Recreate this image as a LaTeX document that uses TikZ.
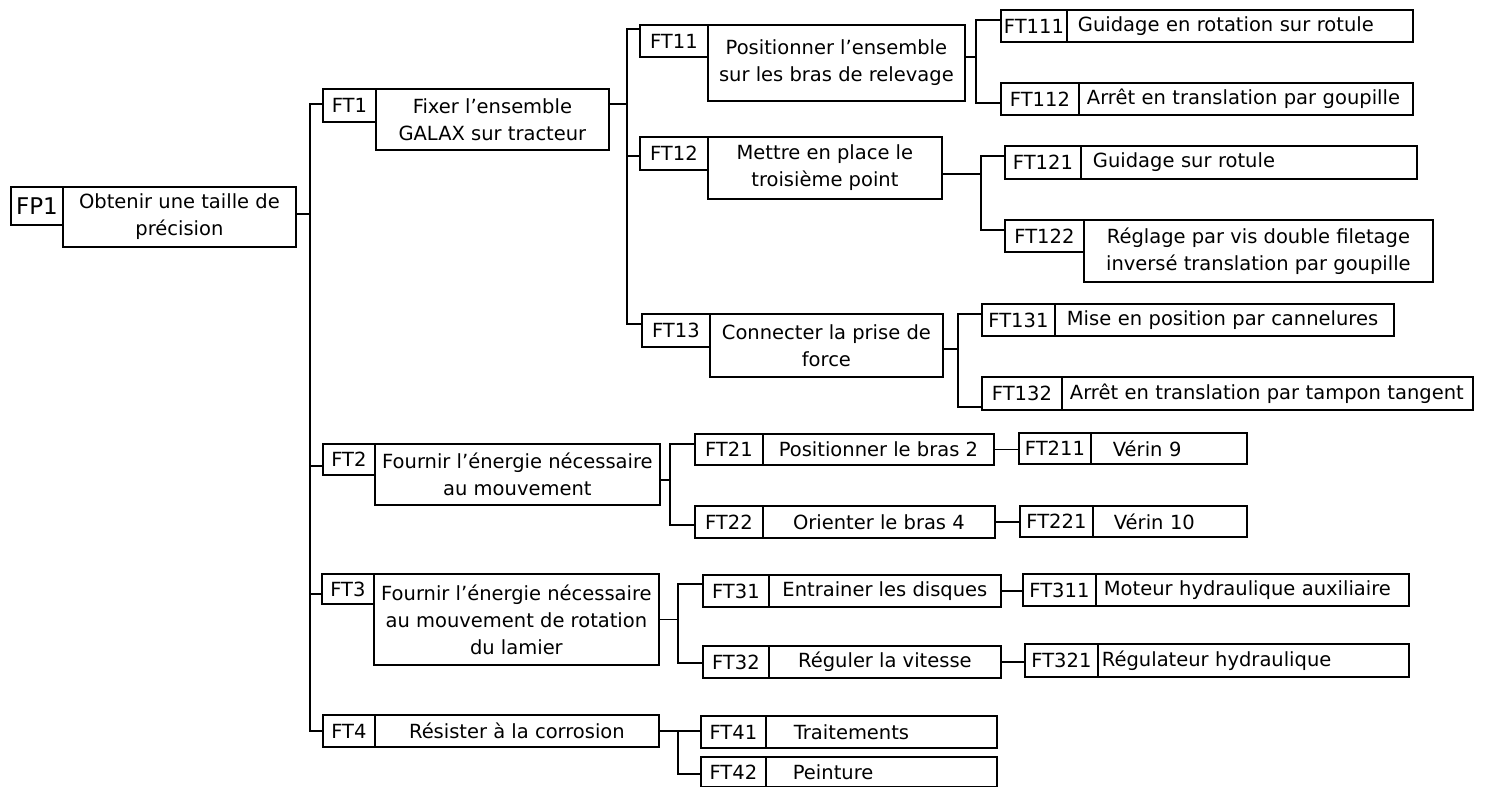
\documentclass[tikz,border=0pt]{standalone}
\usepackage{fontspec}
\setmainfont{DejaVu Sans}
\tikzset{
  lab/.style={draw, line width=1.8pt, inner sep=0pt, font=\fontsize{19.5}{26}\selectfont},
  box/.style={draw, line width=1.8pt, inner xsep=2pt, inner ysep=0pt, align=center, font=\fontsize{19.5}{27}\selectfont},
  conn/.style={line width=1.8pt},
  corners/.code args={#1,#2,#3,#4}{%
    \pgfmathsetmacro\cwd{#3-#1}\pgfmathsetmacro\cht{#4-#2}%
    \edef\tmpk{\noexpand\pgfkeysalso{minimum width=\cwd pt, minimum height=\cht pt, anchor=north west, at={(#1,#2)}}}\tmpk},
  lt/.code={\pgfmathsetmacro\twd{\cwd-2*#1}%
    \edef\tmpk{\noexpand\pgfkeysalso{inner xsep=#1pt, text width=\twd pt, align=left}}\tmpk},
}
\newcommand\ftnode[9]{%
  \node[lab, corners={#2,#5,#3,#6}] (#1-l) {#1};
  \node[box, corners={#3,#5,#4,#7}, #8] (#1) {#9};}
\newcommand\branch[4]{%
  \coordinate (#1-o) at ([yshift=#2pt]#1.east);
  \coordinate (#1-b) at (#3,0);
  \draw[conn] (#1-o) -- (#1-b |- #1-o);
  \foreach \bchild/\bshift in {#4}{%
    \coordinate (\bchild-i) at ([yshift=\bshift pt]\bchild-l.west);
    \draw[conn] (#1-b |- #1-o) -- (#1-b |- \bchild-i) -- (\bchild-i);
  }}
\begin{document}
\begin{tikzpicture}[x=1pt,y=-1pt]
\useasboundingbox (0,0) rectangle (1486,787);
\node[lab, corners={10,186,62,224}, font=\fontsize{23}{28}\selectfont] (FP1-l) {FP1};
\node[box, corners={62,186,295,246}] (FP1) {Obtenir une taille de\\précision};
\ftnode{FT1}{322}{375}{608}{88}{121}{149}{}{Fixer l’ensemble\\GALAX sur tracteur}
\ftnode{FT11}{639}{707}{964}{24}{56}{100}{}{Positionner l’ensemble\\sur les bras de relevage}
\ftnode{FT111}{1000}{1066}{1412}{9}{41}{41}{lt=11}{Guidage en rotation sur rotule}
\ftnode{FT112}{1000}{1078}{1412}{82}{114}{114}{lt=8}{Arrêt en translation par goupille}
\ftnode{FT12}{639}{707}{941}{136}{169}{198}{}{Mettre en place le\\troisième point}
\ftnode{FT121}{1004}{1080}{1416}{145}{178}{178}{lt=12}{Guidage sur rotule}
\ftnode{FT122}{1004}{1083}{1432}{219}{251}{281}{}{Réglage par vis double filetage\\inversé translation par goupille}
\ftnode{FT13}{641}{709}{942}{313}{346}{376}{}{Connecter la prise de\\force}
\ftnode{FT131}{981}{1054}{1393}{303}{335}{335}{lt=12}{Mise en position par cannelures}
\ftnode{FT132}{981}{1061}{1472}{376}{409}{409}{lt=8}{Arrêt en translation par tampon tangent}
\ftnode{FT2}{322}{374}{659}{443}{474}{504}{}{Fournir l’énergie nécessaire\\au mouvement}
\ftnode{FT21}{694}{762}{993}{433}{464}{464}{}{Positionner le bras 2}
\ftnode{FT211}{1018}{1090}{1246}{432}{463}{463}{lt=22}{Vérin 9}
\ftnode{FT22}{694}{762}{994}{505}{537}{537}{}{Orienter le bras 4}
\ftnode{FT221}{1019}{1092}{1246}{505}{536}{536}{lt=21}{Vérin 10}
\ftnode{FT3}{321}{373}{658}{573}{603}{664}{}{Fournir l’énergie nécessaire\\au mouvement de rotation\\du lamier}
\ftnode{FT31}{702}{768}{1000}{574}{606}{606}{}{Entrainer les disques}
\ftnode{FT311}{1022}{1095}{1408}{573}{605}{605}{lt=8}{Moteur hydraulique auxiliaire}
\ftnode{FT32}{702}{768}{1000}{645}{677}{677}{}{Réguler la vitesse}
\ftnode{FT321}{1024}{1097}{1408}{643}{676}{676}{lt=4}{Régulateur hydraulique}
\ftnode{FT4}{322}{374}{658}{714}{746}{746}{}{Résister à la corrosion}
\ftnode{FT41}{700}{765}{996}{715}{747}{747}{lt=28}{Traitements}
\ftnode{FT42}{700}{765}{996}{756}{786}{786}{lt=27}{Peinture}
\branch{FP1}{3}{310}{FT1/1.5,FT2/-6.5,FT3/-5,FT4/0}
\branch{FT1}{15.5}{627}{FT11/12,FT12/-2.5,FT13/6.5}
\branch{FT11}{6}{976}{FT111/6,FT112/-4}
\branch{FT12}{-6}{981}{FT121/6.5,FT122/6}
\branch{FT13}{-3.5}{958}{FT131/6,FT132/-13.5}
\branch{FT2}{-5.5}{670}{FT21/5.5,FT22/-3}
\branch{FT3}{0}{678}{FT31/7,FT32/-1}
\branch{FT4}{0}{678}{FT41/1,FT42/-2}
\draw[conn] (FT21.east) -- (FT21.east -| FT211-l.west);
\draw[conn] (FT22.east) -- (FT22.east -| FT221-l.west);
\draw[conn] (FT31.east) -- (FT31.east -| FT311-l.west);
\draw[conn] (FT32.east) -- (FT32.east -| FT321-l.west);
\end{tikzpicture}
\end{document}
